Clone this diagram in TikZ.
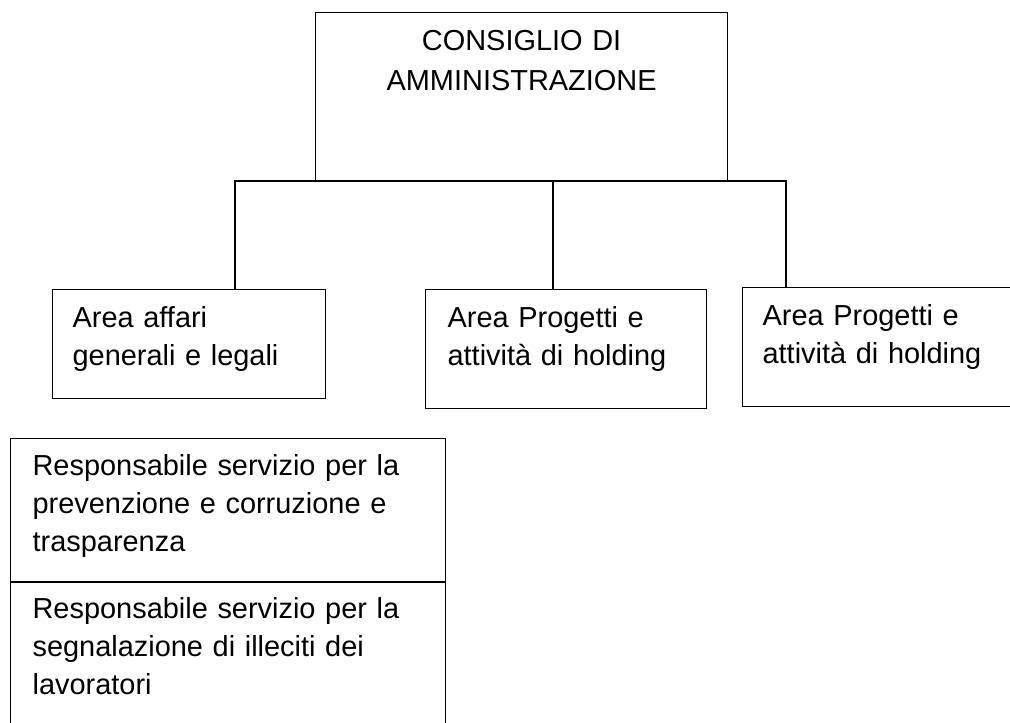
\documentclass[tikz,border=0pt]{standalone}
\usepackage{fontspec}
\setmainfont{Liberation Sans}
\usepackage{tikz}

\tikzset{
  unitbox/.style={draw, line width=0.9pt, anchor=north west, inner ysep=0pt,
    align=left, font=\fontsize{21.7}{28.5}\selectfont},
  bus/.style={line width=0.9pt}
}

\begin{document}
\begin{tikzpicture}[x=0.75pt, y=-0.75pt]
			\path[fill=white, use as bounding box] (0,0) rectangle (1010,722);
			\node[unitbox, align=center, inner xsep=7.5pt, text width=294pt, text height=28.5pt, text depth=97.5pt,
				font=\fontsize{21.7}{30}\selectfont] (cda) at (315,12) {CONSIGLIO DI\\AMMINISTRAZIONE};
			\node[unitbox, inner xsep=15pt, text width=174.75pt, text height=28.5pt, text depth=53.25pt] (affari) at (52,289) {Area affari\\generali e legali};
			\node[unitbox, inner xsep=16.5pt, text width=177.75pt, text height=28.5pt, text depth=60.75pt] (holdingA) at (425,289) {Area Progetti e\\attività di holding};
			\node[unitbox, inner xsep=15pt, text width=174pt, text height=28.5pt, text depth=60.75pt] (holdingB) at (742,287) {Area Progetti e\\attività di holding};
			\node[unitbox, inner xsep=16.5pt, text width=293.25pt, text height=27.75pt, text depth=79.5pt] (rpct) at (10,438) {Responsabile servizio per la\\prevenzione e corruzione e\\trasparenza};
			\node[unitbox, inner xsep=16.5pt, text width=293.25pt, text height=27pt, text depth=84.75pt] (whistle) at (rpct.south west) {Responsabile servizio per la\\segnalazione di illeciti dei\\lavoratori};
			\coordinate (busL) at (235,181);
			\coordinate (busM) at (553,181);
			\coordinate (busR) at (786,181);
			\draw[bus] (busL |- affari.north) -- (busL) -- (busR) -- (busR |- holdingB.north);
			\draw[bus] (busM) -- (busM |- holdingA.north);
		\end{tikzpicture}
\end{document}
